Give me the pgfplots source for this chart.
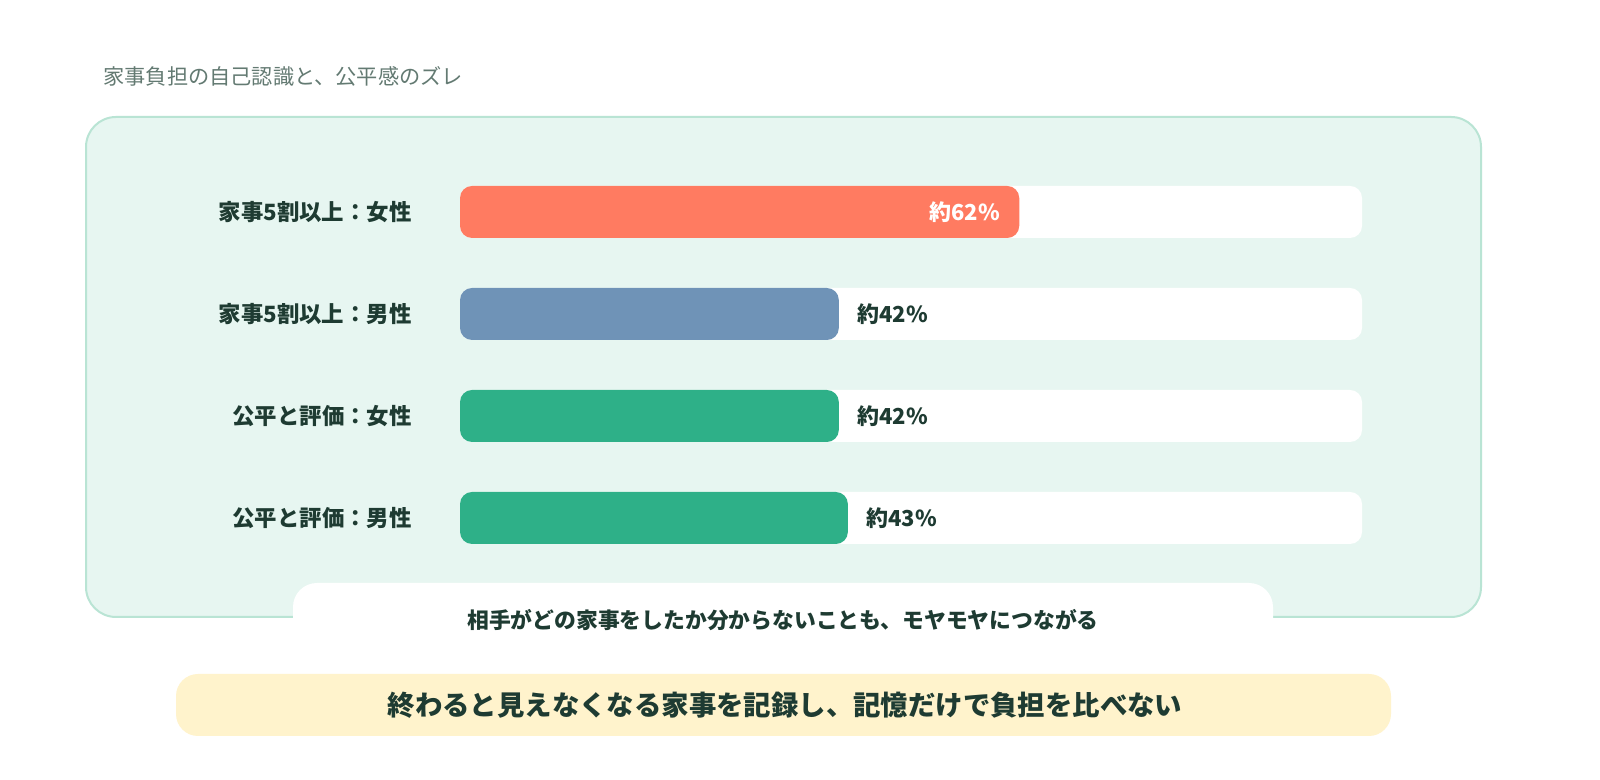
\documentclass[border=0pt]{standalone}
\usepackage{pgfplots}
\pgfplotsset{compat=1.18}
\usepackage{fontspec}
\setmainfont{Noto Sans CJK JP}
\definecolor{panelfill}{HTML}{E7F6F1}
\definecolor{panelline}{HTML}{B9E4D4}
\definecolor{coral}{HTML}{FF7B61}
\definecolor{slate}{HTML}{6F93B7}
\definecolor{mint}{HTML}{2EB088}
\definecolor{ink}{HTML}{1E3B32}
\definecolor{titlegray}{HTML}{637A72}
\definecolor{note}{HTML}{FFF3CC}
\begin{document}
\begin{tikzpicture}
% canvas: 1px = 0.5pt
\fill[white] (0,0) rectangle (800pt,390pt);
\node[anchor=west, inner sep=0pt, text=titlegray, font=\fontsize{10.6pt}{12pt}\selectfont] at (51.5pt,352pt) {家事負担の自己認識と、公平感のズレ};
\filldraw[fill=panelfill, draw=panelline, line width=1pt, rounded corners=15pt] (43pt,81.5pt) rectangle (740.5pt,331.5pt);
\fill[white, rounded corners=12pt] (146.5pt,65pt) rectangle (636.5pt,98.5pt);
\node[text=ink, font=\fontsize{10.9pt}{13pt}\selectfont\bfseries] at (391.5pt,80pt) {相手がどの家事をしたか分からないことも、モヤモヤにつながる};
\fill[note, rounded corners=11pt] (88pt,22pt) rectangle (695.5pt,53pt);
\node[text=ink, font=\fontsize{13.7pt}{16pt}\selectfont\bfseries] at (392.5pt,37.5pt) {終わると見えなくなる家事を記録し、記憶だけで負担を比べない};
\begin{axis}[
    at={(230pt,105.5pt)}, anchor=south west,
    scale only axis, width=451pt, height=204pt,
    xmin=0, xmax=100, ymin=0.5, ymax=4.5,
    clip=false,
    axis line style={draw=none},
    major tick length=0pt,
    xtick=\empty,
    ytick={1,2,3,4},
    yticklabels={公平と評価：男性, 公平と評価：女性, 家事5割以上：男性, 家事5割以上：女性},
    yticklabel style={text=ink, font=\fontsize{11.2pt}{13pt}\selectfont\bfseries, inner sep=0pt, xshift=-24pt},
    /pgf/number format/assume math mode=true,
    xbar, bar width=26pt, bar shift=0pt,
    point meta=x,
    every node near coord/.append style={text=ink, font=\fontsize{11pt}{13pt}\selectfont\bfseries, inner sep=0pt},
]
\addplot[draw=none, fill=white, rounded corners=6pt] coordinates {(100,1) (100,2) (100,3) (100,4)};
\addplot[draw=none, fill=coral, rounded corners=6pt,
    nodes near coords={約\pgfmathprintnumber{\pgfplotspointmeta}\%},
    nodes near coords style={anchor=east, xshift=-9.5pt, text=white}] coordinates {(62,4)};
\addplot[draw=none, fill=slate, rounded corners=6pt,
    nodes near coords={約\pgfmathprintnumber{\pgfplotspointmeta}\%},
    nodes near coords style={anchor=west, xshift=9pt}] coordinates {(42,3)};
\addplot[draw=none, fill=mint, rounded corners=6pt,
    nodes near coords={約\pgfmathprintnumber{\pgfplotspointmeta}\%},
    nodes near coords style={anchor=west, xshift=9pt}] coordinates {(42,2)};
\addplot[draw=none, fill=mint, rounded corners=6pt,
    nodes near coords={約\pgfmathprintnumber{\pgfplotspointmeta}\%},
    nodes near coords style={anchor=west, xshift=9pt}] coordinates {(43,1)};
\end{axis}
\pgfresetboundingbox
\useasboundingbox (0,0) rectangle (800pt,390pt);
\end{tikzpicture}
\end{document}
